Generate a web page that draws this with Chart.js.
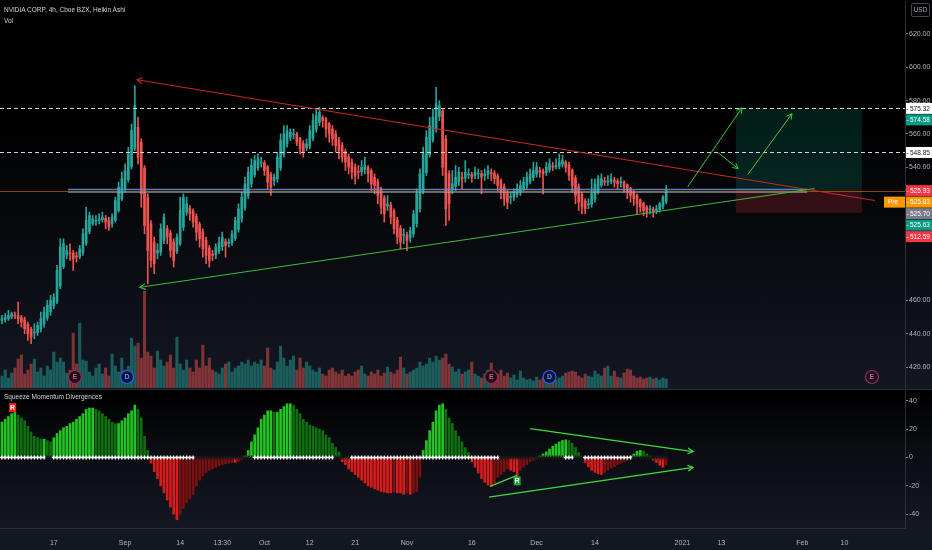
<!DOCTYPE html>
<html>
<head>
<meta charset="utf-8">
<script src="https://cdn.jsdelivr.net/npm/chart.js@4.4.1/dist/chart.umd.min.js"></script>
<style>
  html, body { margin: 0; padding: 0; background: #000; }
  #wrap { position: relative; width: 932px; height: 550px; overflow: hidden; font-family: "Liberation Sans", Arial, sans-serif; }
  #top { position: absolute; left: 0; top: 0; width: 932px; height: 389px; background: linear-gradient(#000 0%, #000 30%, #131722 100%); }
  #sep { position: absolute; left: 0; top: 389px; width: 932px; height: 1px; background: #2a2e39; }
  #bot { position: absolute; left: 0; top: 390px; width: 932px; height: 160px; background: linear-gradient(#000 0%, #0a0c11 35%, #131722 85%, #131722 100%); }
  .lbl { position: absolute; left: 4px; color: #d1d4dc; font-size: 6.5px; white-space: nowrap; }
  #usd { position: absolute; left: 911px; top: 3px; width: 17px; height: 12px; border: 1px solid #434651; border-radius: 2px; color: #b2b5be; font-size: 6.5px; line-height: 12px; text-align: center; }
</style>
</head>
<body>
<div id="wrap">
  <div id="top"><canvas id="priceChart" width="932" height="389"></canvas></div>
  <div id="sep"></div>
  <div id="bot"><canvas id="momChart" width="932" height="160"></canvas></div>
  <div class="lbl" style="top:6px">NVIDIA CORP, 4h, Cboe BZX, Heikin Ashi</div>
  <div class="lbl" style="top:17px">Vol</div>
  <div class="lbl" style="top:393px">Squeeze Momentum Divergences</div>
  <div id="usd">USD</div>
</div>
<script>
// Heikin Ashi candles, one per 4h bar (index 0 = first bar on screen)
const haOpen = [
  448, 448.5, 449.2, 450.1, 451, 450.8, 449.9, 448.4, 445.7, 442.8,
  440.4, 440.7, 442.8, 445.9, 449.5, 453.2, 456.6, 459.3, 468.7, 480.3,
  487.2, 488.6, 488.3, 486.6, 486.3, 488.7, 494.3, 501.2, 506.1, 507.5,
  507.8, 508.4, 509.2, 508.1, 506, 508, 514, 521, 527, 532.5,
  540.2, 551.1, 564, 555, 539.5, 522, 506, 495, 488.5, 489,
  496, 503, 500.5, 495, 489.5, 494, 504, 513, 515.5, 513.7,
  510.4, 505.7, 501.3, 496.2, 491.6, 487.8, 487.4, 489.7, 492.3, 495.2,
  494.1, 494.5, 497.3, 502.6, 508.8, 515.4, 522.7, 529.9, 535.4, 539.7,
  542.4, 542.7, 540.3, 535.7, 531.8, 533, 539.5, 547.7, 553.9, 558,
  559.5, 559.7, 557.4, 554.2, 551.6, 552.8, 557.4, 562.7, 566.8, 569.9,
  569, 566, 563, 560, 556.5, 553, 549.5, 546, 543, 540,
  537.5, 537.2, 538.6, 539.8, 537.9, 534, 531.5, 527, 521.5, 516.7,
  517.4, 513.7, 508.4, 503.2, 499.1, 499.3, 497.6, 499.8, 506, 515,
  525.5, 536.7, 547.4, 556.2, 563, 570.5, 573.8, 557, 536, 527,
  528.5, 531, 534, 533.5, 535.3, 535.6, 534.8, 535.9, 536, 535,
  535.5, 536.7, 536.4, 534.7, 531.9, 528.4, 524.7, 521.9, 522, 523.5,
  525.2, 527.1, 529, 531.5, 533.8, 535.9, 538, 537.5, 536.8, 538.4,
  540.2, 540.1, 540.5, 541.8, 542.9, 541.4, 538.2, 533.6, 528.3, 523.7,
  519.8, 517.4, 517.7, 520.9, 525.4, 529.2, 531.1, 531, 531.5, 532.3,
  531.6, 530.8, 530.9, 529.5, 527.2, 525.1, 523, 520.5, 518.2, 516.1,
  514.5, 514.8, 513.9, 514.5, 516.2, 519.1
];
const haHigh = [
  451, 452, 454, 453, 453, 459, 451, 450, 447, 444,
  446, 447, 453, 456, 460, 463, 464, 481, 497, 497,
  493, 494, 490, 489, 493, 503, 516, 513, 511, 511,
  512, 513, 511, 510, 512, 522, 531, 537, 542, 552,
  566, 589, 570, 557, 541, 524, 508, 498, 494, 506,
  512, 505, 502, 497, 500, 522, 524, 522, 517, 515,
  512, 507, 503, 498, 493, 490, 494, 498, 501, 497,
  497, 502, 510, 518, 525, 534, 540, 545, 547, 548,
  546, 544, 541, 537, 536, 549, 560, 565, 565, 563,
  563, 561, 558, 556, 557, 565, 572, 575, 576, 571,
  570, 567, 565, 562, 558, 555, 551, 548, 545, 542,
  541, 544, 546, 541, 539, 536, 533, 528, 523, 523,
  519, 515, 510, 505, 503, 501, 504, 514, 527, 539,
  552, 562, 570, 575, 588, 580, 575, 559, 538, 538,
  541, 540, 537, 544, 539, 537, 540, 539, 538, 539,
  541, 539, 538, 536, 533, 530, 526, 525, 527, 530,
  532, 534, 537, 539, 543, 543, 540, 539, 543, 545,
  543, 545, 548, 547, 544, 543, 539, 535, 530, 525,
  521, 521, 533, 533, 535, 536, 534, 535, 536, 534,
  533, 534, 532, 530, 528, 526, 524, 521, 519, 517,
  517, 516, 517, 519, 523, 529
];
const haLow = [
  446, 447, 448, 449, 449, 446, 444, 440, 436, 434,
  437, 439, 441, 444, 448, 451, 455, 458, 467, 479,
  485, 484, 478, 483, 485, 487, 493, 500, 505, 505,
  506, 507, 503, 502, 504, 507, 513, 520, 525, 531,
  539, 550, 542, 516, 500, 470, 480, 476, 485, 487,
  494, 494, 486, 480, 488, 493, 502, 511, 508, 504,
  496, 492, 486, 482, 480, 484, 485, 488, 490, 486,
  492, 493, 496, 501, 507, 514, 521, 528, 534, 538,
  540, 535, 527, 523, 529, 531, 538, 546, 552, 556,
  557, 553, 548, 546, 550, 551, 556, 561, 565, 564,
  558, 555, 553, 549, 545, 543, 538, 536, 533, 530,
  533, 535, 536, 531, 526, 524, 518, 512, 507, 514,
  506, 500, 494, 491, 494, 490, 495, 498, 504, 513,
  524, 535, 546, 555, 561, 568, 535, 505, 508, 524,
  526, 529, 527, 531, 533, 531, 533, 533, 524, 532,
  533, 532, 530, 526, 521, 517, 515, 518, 520, 522,
  523, 526, 527, 530, 532, 534, 534, 524, 535, 537,
  538, 539, 539, 540, 537, 532, 525, 518, 514, 512,
  512, 515, 516, 519, 524, 528, 529, 529, 530, 528,
  527, 528, 525, 521, 519, 517, 512, 513, 511, 510,
  512, 510, 512, 513, 515, 518
];
const haClose = [
  449, 450, 451, 452, 450.6, 449, 447, 443, 440, 438,
  441, 445, 449, 453, 457, 460, 462, 478, 492, 494,
  490, 488, 485, 486, 491, 500, 508, 511, 509, 508,
  509, 510, 507, 504, 510, 520, 528, 533, 538, 548,
  562, 577, 546, 524, 505, 490, 484, 482, 490, 503,
  510, 498, 490, 484, 498, 514, 522, 518, 512, 507,
  501, 497, 491, 487, 484, 487, 492, 495, 498, 493,
  495, 500, 508, 515, 522, 530, 537, 541, 544, 545,
  543, 538, 531, 528, 534, 546, 556, 560, 562, 561,
  560, 555, 551, 549, 554, 562, 568, 571, 573, 568,
  563, 560, 557, 553, 550, 546, 543, 540, 537, 535,
  537, 540, 541, 536, 530, 529, 523, 516, 512, 518,
  510, 503, 498, 495, 499.5, 496, 502, 512, 524, 536,
  548, 558, 565, 570, 578, 577, 540, 515, 518, 530,
  534, 537, 533, 537, 536, 534, 537, 536, 534, 536,
  538, 536, 533, 529, 525, 521, 519, 522, 525, 527,
  529, 531, 534, 536, 538, 540, 537, 536, 540, 542,
  540, 541, 543, 544, 540, 535, 529, 523, 519, 516,
  515, 518, 524, 530, 533, 533, 531, 532, 533, 531,
  530, 531, 528, 525, 523, 521, 518, 516, 514, 513,
  515, 513, 515, 518, 522, 526
];
// volume, millions of shares
const volume = [
  1.2, 1.8, 1.0, 1.5, 2.0, 2.9, 3.3, 1.4, 1.8, 2.4,
  2.9, 1.6, 2.0, 1.2, 2.2, 1.8, 3.6, 2.6, 3.0, 2.6,
  1.5, 1.8, 5.5, 2.4, 6.5, 2.8, 2.7, 1.6, 1.2, 2.0,
  2.4, 1.4, 2.0, 1.2, 3.4, 2.2, 1.6, 3.0, 1.8, 2.2,
  5.0, 4.2, 4.5, 3.0, 9.7, 3.6, 3.2, 2.0, 3.7, 2.8,
  2.2, 2.6, 3.3, 2.0, 5.1, 2.4, 1.8, 2.8, 2.0, 1.6,
  2.8, 2.0, 4.3, 2.2, 3.0, 1.8, 1.6, 1.4, 2.0, 2.4,
  2.6, 1.6, 2.0, 2.2, 2.6, 2.4, 2.8, 2.2, 2.6, 2.4,
  2.8, 2.2, 4.0, 2.0, 1.8, 2.6, 4.2, 3.0, 2.2, 2.8,
  3.2, 1.8, 3.0, 2.0, 2.6, 2.2, 1.8, 1.6, 2.0, 1.4,
  1.2, 1.8, 2.0, 1.6, 1.4, 1.8, 1.2, 1.4, 1.2, 1.6,
  1.8, 2.2, 1.4, 1.2, 1.6, 1.4, 1.8, 1.2, 1.5, 2.1,
  1.6, 1.4, 1.8, 3.1, 2.0, 1.4, 1.6, 1.8, 2.0, 2.6,
  2.2, 2.4, 3.0, 2.6, 3.2, 2.8, 3.0, 3.4, 2.4, 2.1,
  1.6, 1.9, 1.4, 1.6, 1.8, 2.6, 1.4, 1.2, 1.0, 1.4,
  1.8, 2.5, 1.6, 1.4, 1.8, 1.2, 1.5, 1.0, 1.3, 0.8,
  1.7, 1.0, 0.8, 0.9, 0.7, 1.1, 0.8, 1.0, 1.2, 0.9,
  1.1, 0.8, 1.0, 1.2, 1.5, 1.6, 1.7, 1.6, 1.2, 1.0,
  1.4, 1.2, 1.1, 1.7, 1.4, 1.2, 2.0, 2.2, 1.2, 1.7,
  1.1, 1.0, 1.5, 1.9, 1.8, 1.2, 1.0, 1.1, 0.9, 1.0,
  1.1, 0.9, 1.0, 0.8, 1.0, 0.9
];
// squeeze momentum histogram
const momentum = [
  25, 27, 29, 31, 32, 30, 28, 26, 22, 18,
  15, 14, 13, 13, 12, 11, 14, 17, 19, 21,
  22, 24, 25, 27, 29, 31, 34, 35, 35, 34,
  33, 31, 29, 27, 25, 24, 24, 26, 28, 31,
  33, 37, 34, 28, 15, 5, -4, -10, -15, -20,
  -25, -30, -35, -40, -44, -40, -36, -32, -29, -26,
  -20, -16, -13, -11, -9, -8, -7, -6, -5, -4.5,
  -4, -3.5, -3.5, -3, -1.5, 1, 5, 11, 16, 21,
  27, 30, 33, 33, 32, 32, 34, 36, 38, 38,
  37, 34, 31, 27, 25, 23, 22, 21, 20, 19,
  16, 14, 10, 7, 4, -3, -5, -8, -10, -12,
  -14, -16, -18, -20, -21, -22, -23, -24, -24.5, -25,
  -25, -24.5, -25, -25, -26, -25, -26, -25, -24, -14,
  5, 12, 19, 25, 33, 37, 38, 34, 28, 24,
  19, 15, 11, 7, 3.5, -3, -7, -11, -15, -17.5,
  -19.5, -20.5, -18, -14, -12, -10, -8, -9, -10, -13,
  -9, -7, -5, -3, -2, -1, 1, 2.5, 4, 6,
  8, 9.5, 11, 12, 12.5, 12, 10, 7, 3.5, 1,
  -3.5, -6.5, -9, -10.5, -11.5, -12, -10.5, -9, -7.5, -6.5,
  -5, -4, -3, -2, 1, 2.5, 4.5, 5, 4.5, 2.5,
  1, -2, -3.5, -5.5, -7, -5
];
// bar ranges where the squeeze is off (white crosses on the zero line)
const squeezeOff = [[0, 13], [16, 59], [78, 102], [108, 153], [174, 176], [180, 194]];

// time axis: bar index -> label
const timeTicks = [16, 38, 55, 68, 81, 95, 109, 125, 145, 165, 183, 210, 222, 247, 260];
const timeLabels = ["17", "Sep", "14", "13:30", "Oct", "12", "21", "Nov", "16", "Dec", "14", "2021", "13", "Feb", "10"];
const priceTicks = [420, 440, 460, 540, 560, 580, 600, 620];
const momTicks = [-40, -20, 0, 20, 40];

// price tags on the right axis
const tagPrices = [575.32, 574.58, 548.85, 525.93, 525.83, 525.70, 525.63, 512.59];
const tagColors = ["#ffffff", "#089981", "#ffffff", "#f23645", "#ff9800", "#787b86", "#089981", "#f23645"];
const tagText = ["#131722", "#ffffff", "#131722", "#ffffff", "#ffffff", "#ffffff", "#ffffff", "#ffffff"];

// events under the volume (bar index, letter)
const eventIdx = [22.5, 38.6, 151, 169, 268.5];
const eventType = ["E", "D", "E", "D", "E"];

const X_MIN = -0.6, X_MAX = 278.7;
const FONT = '"Liberation Sans", Arial, sans-serif';
const UP = "#26a69a", DOWN = "#ef5350";
const bars = haClose.map((_, i) => i);
const isUp = i => haClose[i] >= haOpen[i];

function arrowHead(ctx, x1, y1, x2, y2, size) {
  const a = Math.atan2(y2 - y1, x2 - x1);
  ctx.beginPath();
  ctx.moveTo(x2 - size * Math.cos(a - 0.5), y2 - size * Math.sin(a - 0.5));
  ctx.lineTo(x2, y2);
  ctx.lineTo(x2 - size * Math.cos(a + 0.5), y2 - size * Math.sin(a + 0.5));
  ctx.stroke();
}
function segment(ctx, x1, y1, x2, y2, head) {
  ctx.beginPath();
  ctx.moveTo(x1, y1);
  ctx.lineTo(x2, y2);
  ctx.stroke();
  if (head) arrowHead(ctx, x1, y1, x2, y2, 6);
}

const priceDrawings = {
  id: "priceDrawings",
  beforeDatasetsDraw(chart) {
    const { ctx, chartArea: a, scales: { x, y } } = chart;
    ctx.save();
    // long position box
    const bx1 = x.getPixelForValue(226.5), bx2 = x.getPixelForValue(265.4);
    ctx.fillStyle = "rgba(8,153,129,0.2)";
    ctx.fillRect(bx1, y.getPixelForValue(575.32), bx2 - bx1, y.getPixelForValue(525.93) - y.getPixelForValue(575.32));
    ctx.fillStyle = "rgba(242,54,69,0.2)";
    ctx.fillRect(bx1, y.getPixelForValue(525.93), bx2 - bx1, y.getPixelForValue(512.59) - y.getPixelForValue(525.93));
    // last price line
    ctx.strokeStyle = "rgba(245,124,0,0.55)";
    ctx.lineWidth = 1;
    const py = Math.round(y.getPixelForValue(525.93)) + 0.5;
    ctx.beginPath(); ctx.moveTo(a.left, py); ctx.lineTo(a.right, py); ctx.stroke();
    ctx.restore();
  },
  afterDatasetsDraw(chart) {
    const { ctx, chartArea: a, scales: { x, y } } = chart;
    const X = v => x.getPixelForValue(v), Y = v => y.getPixelForValue(v);
    ctx.save();
    // support band lines
    ctx.lineWidth = 1.5;
    ctx.strokeStyle = "rgba(90,150,230,0.85)";
    segment(ctx, X(20.4), Y(526.6), X(248.5), Y(526.6));
    ctx.strokeStyle = "rgba(170,170,170,0.6)";
    segment(ctx, X(20.4), Y(525.0), X(248.5), Y(525.0));
    // dashed levels
    ctx.lineWidth = 1;
    ctx.strokeStyle = "#d1d4dc";
    ctx.setLineDash([4, 3]);
    [575.32, 548.85].forEach(p => {
      const yy = Math.round(Y(p)) + 0.5;
      segment(ctx, a.left, yy, a.right, yy);
    });
    ctx.setLineDash([]);
    // trendlines
    ctx.strokeStyle = "#c62828";
    ctx.lineWidth = 1.2;
    segment(ctx, X(269.4), Y(520), X(41.7), Y(592.5), true);
    ctx.strokeStyle = "#3cb83c";
    segment(ctx, X(250.9), Y(527.2), X(42.6), Y(467.9), true);
    // projected moves
    ctx.strokeStyle = "#3cc83c";
    ctx.lineWidth = 1;
    segment(ctx, X(211.7), Y(528.4), X(228.4), Y(575.7), true);
    segment(ctx, X(221), Y(548.7), X(227.2), Y(539.2), true);
    segment(ctx, X(230.2), Y(535.6), X(243.8), Y(572.1), true);
    // event markers
    const ey = a.bottom - 11;
    ctx.font = "bold 7px " + FONT;
    ctx.textAlign = "center";
    ctx.textBaseline = "middle";
    eventIdx.forEach((v, k) => {
      const ex = X(v), isE = eventType[k] === "E";
      ctx.beginPath();
      ctx.arc(ex, ey, 6.5, 0, Math.PI * 2);
      ctx.fillStyle = k === 4 ? "rgba(0,0,0,0)" : (isE ? "#1c1119" : "#0e1630");
      ctx.fill();
      ctx.lineWidth = 1.2;
      ctx.strokeStyle = isE ? "#9c2a55" : "#2962ff";
      ctx.stroke();
      ctx.fillStyle = isE ? "#d0587f" : "#5b8cff";
      ctx.fillText(eventType[k], ex, ey + 0.5);
    });
    ctx.restore();
  },
  afterDraw(chart) {
    const { ctx, chartArea: a, scales: { y } } = chart;
    ctx.save();
    ctx.font = "6.5px " + FONT;
    ctx.textAlign = "left";
    ctx.textBaseline = "middle";
    let prev = -100;
    tagPrices.forEach((p, k) => {
      const ty = Math.max(y.getPixelForValue(p), prev + 11.5);
      prev = ty;
      ctx.fillStyle = tagColors[k];
      ctx.fillRect(a.right + 1, ty - 5.5, 26, 11);
      ctx.fillStyle = tagText[k];
      ctx.fillText("-", a.right + 1.5, ty + 0.5);
      ctx.fillText(p.toFixed(2), a.right + 5, ty + 0.5);
      if (k === 4) {
        ctx.fillStyle = tagColors[k];
        ctx.fillRect(a.right - 21, ty - 5.5, 21, 11);
        ctx.fillStyle = "#ffffff";
        ctx.fillText("Pre", a.right - 17, ty + 0.5);
      }
    });
    ctx.restore();
  }
};

const momDrawings = {
  id: "momDrawings",
  afterDatasetsDraw(chart) {
    const { ctx, scales: { x, y } } = chart;
    const X = v => x.getPixelForValue(v), Y = v => y.getPixelForValue(v);
    ctx.save();
    ctx.strokeStyle = "#3ddc3d";
    ctx.lineWidth = 1.2;
    segment(ctx, X(163), Y(20.4), X(213.3), Y(4.2), true);
    segment(ctx, X(150.3), Y(-28), X(213.3), Y(-7), true);
    segment(ctx, X(150.6), Y(-20.4), X(159), Y(-12.6));
    ctx.font = "bold 7px " + FONT;
    ctx.textAlign = "center";
    ctx.textBaseline = "middle";
    [[3.3, 35.3, "#ff1a1a"], [159, -16.5, "#1fa83a"]].forEach(([i, v, c]) => {
      ctx.fillStyle = c;
      ctx.fillRect(X(i) - 3.5, Y(v) - 4.5, 7, 9);
      ctx.fillStyle = "#ffffff";
      ctx.fillText("R", X(i), Y(v) + 0.5);
    });
    ctx.restore();
  }
};

// right-hand value axis; lineHeight 0 stops Chart.js padding the plot for the edge labels
const rightAxis = (min, max, ticks, fmt) => ({
  position: "right",
  min, max,
  afterFit: s => { s.width = 27; },
  afterBuildTicks: s => { s.ticks = ticks.map(v => ({ value: v })); },
  border: { display: true, color: "#2a2e39" },
  grid: { drawOnChartArea: false, color: "#787b86", tickLength: 3 },
  ticks: { color: "#b2b5be", font: { size: 7, family: FONT, lineHeight: 0 }, padding: 1, callback: fmt }
});

new Chart(document.getElementById("priceChart"), {
  type: "bar",
  data: {
    datasets: [
      {
        data: bars.map(i => ({ x: i, y: [haOpen[i], haClose[i]] })),
        backgroundColor: c => isUp(c.dataIndex) ? UP : DOWN,
        barThickness: 2, minBarLength: 1, grouped: false, order: 1, yAxisID: "y"
      },
      {
        data: bars.map(i => ({ x: i, y: [haLow[i], haHigh[i]] })),
        backgroundColor: c => isUp(c.dataIndex) ? UP : DOWN,
        barThickness: 1, grouped: false, order: 2, yAxisID: "y"
      },
      {
        data: bars.map(i => ({ x: i, y: volume[i] })),
        backgroundColor: c => isUp(c.dataIndex) ? "rgba(38,166,154,0.5)" : "rgba(239,83,80,0.5)",
        barThickness: 2.4, grouped: false, order: 3, yAxisID: "vol"
      }
    ]
  },
  options: {
    responsive: false,
    animation: false,
    events: [],
    layout: { padding: 0, autoPadding: false },
    plugins: { legend: { display: false }, tooltip: { enabled: false } },
    scales: {
      x: { type: "linear", min: X_MIN, max: X_MAX, offset: false, display: false },
      y: rightAxis(407.4, 639.8, priceTicks, v => v.toFixed(2)),
      vol: { display: false, min: 0, max: 38.8 }
    }
  },
  plugins: [priceDrawings]
});

new Chart(document.getElementById("momChart"), {
  type: "bar",
  data: {
    datasets: [
      {
        type: "line",
        data: bars.map(i => ({ x: i, y: 0 })),
        showLine: false,
        pointStyle: "cross",
        pointRadius: 2,
        pointBorderWidth: 1.3,
        pointBorderColor: c => squeezeOff.some(([s, e]) => c.dataIndex >= s && c.dataIndex <= e) ? "#ffffff" : "#1a1a1a",
        order: 0
      },
      {
        data: bars.map(i => ({ x: i, y: momentum[i] })),
        backgroundColor: c => {
          const i = c.dataIndex, v = momentum[i], p = i > 0 ? momentum[i - 1] : v;
          if (v >= 0) return v >= p ? "#22c422" : "#0f700f";
          return v <= p ? "#d81b1b" : "#7c1010";
        },
        barThickness: 2, order: 1
      }
    ]
  },
  options: {
    responsive: false,
    animation: false,
    events: [],
    layout: { padding: 0, autoPadding: false },
    plugins: { legend: { display: false }, tooltip: { enabled: false } },
    scales: {
      x: {
        type: "linear", min: X_MIN, max: X_MAX, offset: false,
        afterFit: s => { s.height = 22; },
        afterBuildTicks: s => { s.ticks = timeTicks.map(v => ({ value: v })); },
        border: { display: true, color: "#2a2e39" },
        grid: { display: false },
        ticks: {
          color: "#b2b5be", font: { size: 7, family: FONT }, padding: 3,
          autoSkip: false, maxRotation: 0,
          callback: v => timeLabels[timeTicks.indexOf(v)]
        }
      },
      y: rightAxis(-49.8, 47, momTicks, v => String(v))
    }
  },
  plugins: [momDrawings]
});
</script>
</body>
</html>
